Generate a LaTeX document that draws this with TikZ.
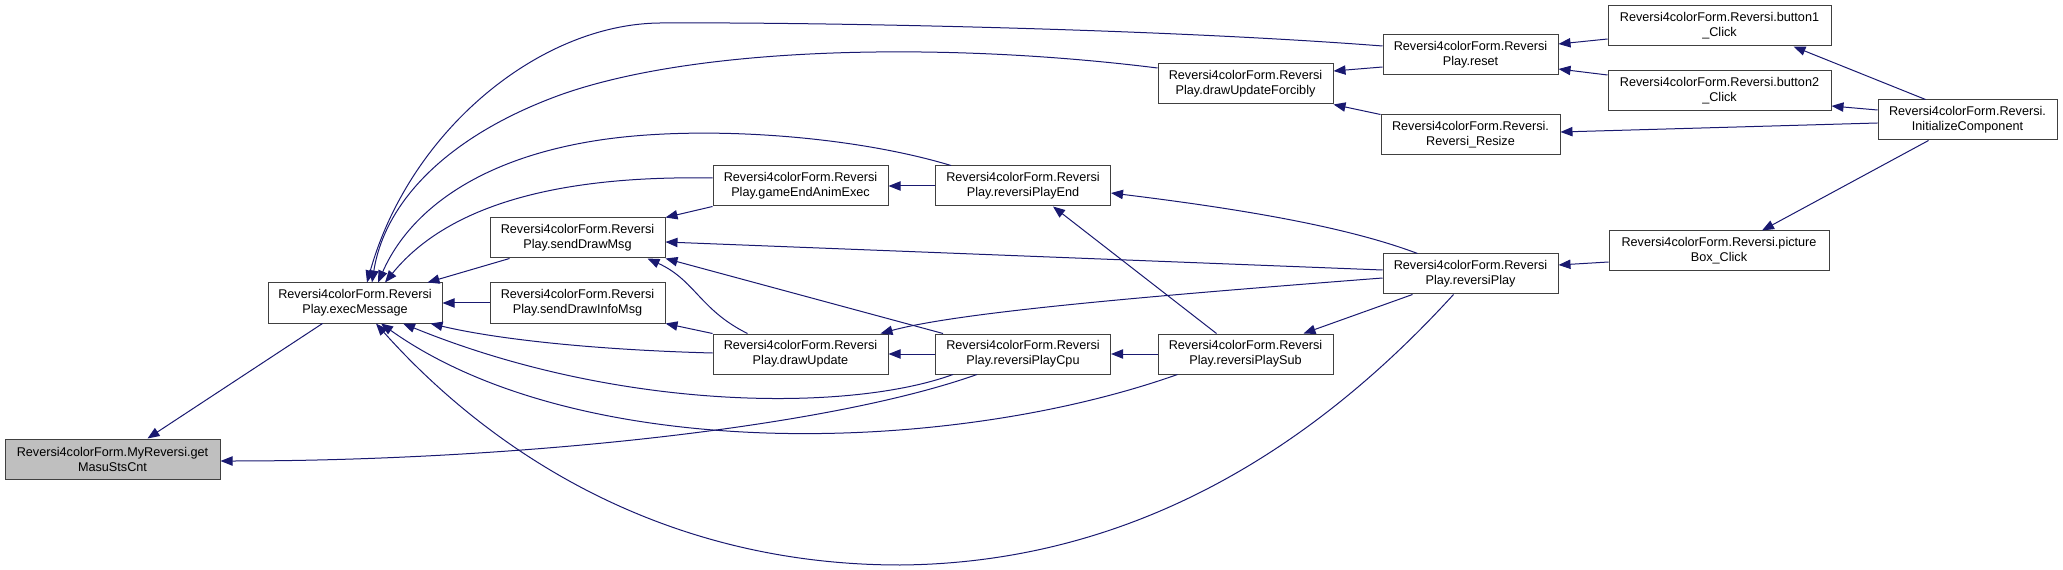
\documentclass[tikz,border=0pt]{standalone}
\usepackage{fontspec}
\setmainfont{Liberation Sans}
\usetikzlibrary{arrows.meta,calc}
\definecolor{midnight}{RGB}{25,25,112}

\begin{document}
\begin{tikzpicture}[x=0.75pt,y=-0.75pt,
    fn/.style={draw=black!75,fill=white,line width=0.75pt,inner sep=0pt,
      minimum width=131.25pt,minimum height=30pt,align=center,
      font=\fontsize{9.5}{11.25}\selectfont},
    call/.style={midnight,line width=0.75pt,-{Triangle[length=9pt,width=7pt]}}]
  \useasboundingbox (0,0) rectangle (2063,570);
  % functions, centres in px from the top left corner
  \node[fn,fill=black!25,minimum width=161.25pt] (mrs) at (112.5,459) {Reversi4colorForm.MyReversi.get\\MasuStsCnt};
  \node[fn,minimum width=130.5pt] (exec) at (355,303) {Reversi4colorForm.Reversi\\Play.execMessage};
  \node[fn] (sdm) at (577.5,238) {Reversi4colorForm.Reversi\\Play.sendDrawMsg};
  \node[fn] (sdim) at (577.5,303) {Reversi4colorForm.Reversi\\Play.sendDrawInfoMsg};
  \node[fn] (geae) at (800.5,186) {Reversi4colorForm.Reversi\\Play.gameEndAnimExec};
  \node[fn] (du) at (800.5,354) {Reversi4colorForm.Reversi\\Play.drawUpdate};
  \node[fn] (rpe) at (1023,186) {Reversi4colorForm.Reversi\\Play.reversiPlayEnd};
  \node[fn] (rpc) at (1023,354) {Reversi4colorForm.Reversi\\Play.reversiPlayCpu};
  \node[fn] (duf) at (1245.5,84) {Reversi4colorForm.Reversi\\Play.drawUpdateForcibly};
  \node[fn] (rps) at (1245.5,354) {Reversi4colorForm.Reversi\\Play.reversiPlaySub};
  \node[fn] (reset) at (1470.5,55) {Reversi4colorForm.Reversi\\Play.reset};
  \node[fn,minimum width=134.25pt] (resize) at (1470.5,135) {Reversi4colorForm.Reversi.\\Reversi\_Resize};
  \node[fn] (rp) at (1470.5,274) {Reversi4colorForm.Reversi\\Play.reversiPlay};
  \node[fn,minimum width=167.25pt] (b1) at (1719.5,26) {Reversi4colorForm.Reversi.button1\\\_Click};
  \node[fn,minimum width=167.25pt] (b2) at (1719.5,91) {Reversi4colorForm.Reversi.button2\\\_Click};
  \node[fn,minimum width=165pt] (pbc) at (1719,251) {Reversi4colorForm.Reversi.picture\\Box\_Click};
  \node[fn,minimum width=134.25pt] (ic) at (1967.5,120) {Reversi4colorForm.Reversi.\\InitializeComponent};

  % straight calls
  \foreach \a/\b in {sdim/exec,rpe/geae,rpc/du,rps/rpc}
    \draw[call] (\a.west) -- (\b.east);
  \draw[call] ($(exec.south west)+(55,0)$) -- ($(mrs.north)+(35,0)$);
  \draw[call] ($(sdm.south west)+(20,0)$) -- ($(exec.north east)+(-15,0)$);
  \draw[call] (geae.south west) -- (sdm.north east);
  \draw[call] ($(rp.west)+(0,-4)$) -- ($(sdm.east)+(0,4)$);
  \draw[call] ($(rpc.north west)+(8,0)$) -- (sdm.south east);
  \draw[call] (du.north west) -- (sdim.south east);
  \draw[call] ($(rps.north west)+(59,0)$) -- ($(rpe.south)+(30,0)$);
  \draw[call] ($(rp.south west)+(30,0)$) -- ($(rps.north east)+(-30,0)$);
  \draw[call] ($(reset.west)+(0,12)$) -- ($(duf.east)+(0,-13)$);
  \draw[call] (resize.north west) -- (duf.south east);
  \draw[call] ($(b1.west)+(0,13)$) -- ($(reset.east)+(0,-11)$);
  \draw[call] ($(b2.west)+(0,-16)$) -- ($(reset.east)+(0,14)$);
  \draw[call] ($(ic.north)+(-42,0)$) -- ($(b1.south east)+(-38,0)$);
  \draw[call] ($(ic.west)+(0,-10)$) -- ($(b2.east)+(0,15)$);
  \draw[call] ($(ic.west)+(0,3)$) -- ($(resize.east)+(0,-3)$);
  \draw[call] ($(ic.south)+(-39,0)$) -- ($(pbc.north)+(43,0)$);
  \draw[call] ($(pbc.west)+(0,11)$) -- ($(rp.east)+(0,-9)$);

  % curved calls
  \draw[call] ($(rpc.south)+(-46,0)$) .. controls (820,430) and (500,461) .. ($(mrs.east)+(0,2)$);
  \draw[call] ($(geae.west)+(0,-8)$) .. controls (600,176) and (460,190) .. ($(exec.north)+(30,0)$);
  \draw[call] ($(rpe.north west)+(16,0)$) .. controls (850,135) and (700,125) .. (600,140)
    .. controls (480,158) and (410,210) .. ($(exec.north)+(23,0)$);
  \draw[call] ($(duf.west)+(0,-16)$) .. controls (950,42) and (700,45) .. (560,95)
    .. controls (450,135) and (385,200) .. ($(exec.north)+(17,0)$);
  \draw[call] ($(reset.west)+(0,-9)$) .. controls (1150,28) and (800,22) .. (660,23)
    .. controls (540,24) and (410,130) .. ($(exec.north)+(12,0)$);
  \draw[call] ($(du.west)+(0,-1)$) .. controls (600,350) and (500,340) .. ($(exec.south east)+(-12,0)$);
  \draw[call] ($(rpc.south west)+(18,0)$) .. controls (850,412) and (620,412) .. ($(exec.south)+(48,0)$);
  \draw[call] ($(rps.south west)+(20,0)$) .. controls (950,455) and (580,465) .. ($(exec.south)+(26,0)$);
  \draw[call] ($(rp.south)+(-17,0)$) .. controls (1330,430) and (1150,563) .. (900,565)
    .. controls (650,565) and (480,440) .. ($(exec.south)+(21,0)$);
  \draw[call] ($(du.north west)+(35,0)$) .. controls (700,310) and (695,280) .. ($(sdm.south east)+(-18,0)$);
  \draw[call] ($(rp.west)+(0,4)$) .. controls (1150,296) and (960,312) .. ($(du.north east)+(-8,0)$);
  \draw[call] ($(rp.north west)+(35,0)$) .. controls (1350,228) and (1250,210) .. ($(rpe.east)+(0,7)$);
\end{tikzpicture}
\end{document}
